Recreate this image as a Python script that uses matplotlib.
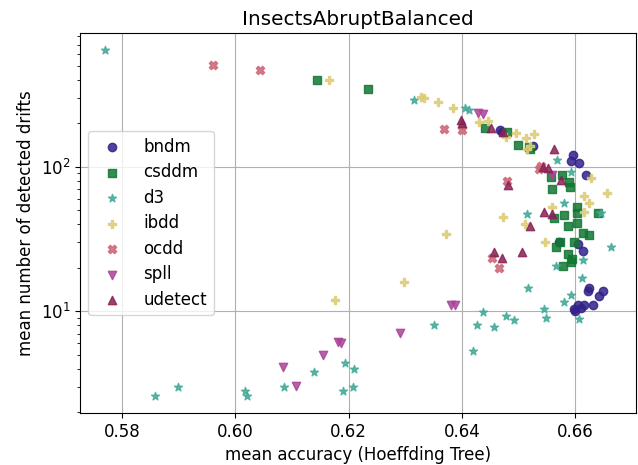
import matplotlib
matplotlib.use("Agg")
import matplotlib.pyplot as plt

# mean accuracy / mean number of detected drifts per detector
bndm_acc = [0.6467, 0.6470, 0.6525, 0.6596, 0.6593, 0.6607, 0.6620, 0.6571, 0.6605, 0.6614,
            0.6624, 0.6622, 0.6649, 0.6642, 0.6605, 0.6616, 0.6631, 0.6598, 0.6610, 0.6600]
bndm_drifts = [180, 175, 140, 120, 110, 107, 88, 30, 29, 26,
               14.5, 13.8, 13.8, 12.8, 11, 11, 11, 10.3, 10.5, 10.0]

csddm_acc = [0.6144, 0.6234, 0.6441, 0.6480, 0.6499, 0.6519, 0.6521, 0.6557, 0.6577, 0.6559,
             0.6590, 0.6591, 0.6603, 0.6603, 0.6640, 0.6580, 0.6562, 0.6587, 0.6603, 0.6614,
             0.6624, 0.6566, 0.6573, 0.6598, 0.6587, 0.6594, 0.6578, 0.6593]
csddm_drifts = [398, 345, 186, 175, 142, 137, 132, 85, 88, 70,
                79, 72, 53, 48, 48, 46, 44, 39, 41, 35,
                33.5, 28, 30, 30, 25, 23, 20.5, 22]

d3_acc = [0.5770, 0.5858, 0.5899, 0.6017, 0.6021, 0.6086, 0.6139, 0.6194, 0.6210, 0.6190,
          0.6208, 0.6315, 0.6351, 0.6405, 0.6413, 0.6420, 0.6427, 0.6437, 0.6457, 0.6478,
          0.6492, 0.6515, 0.6517, 0.6545, 0.6548, 0.6566, 0.6568, 0.6580, 0.6580, 0.6593,
          0.6593, 0.6607, 0.6612, 0.6614, 0.6645, 0.6663]
d3_drifts = [640, 2.6, 3.0, 2.8, 2.6, 3.0, 3.8, 4.4, 4.0, 2.8,
             3.0, 290, 8.0, 255, 247, 5.3, 8.0, 9.8, 7.8, 9.3,
             8.7, 47, 14.4, 10.3, 9.0, 20.5, 112, 56, 11.5, 92,
             13, 8.8, 17, 22.5, 47.5, 28]

ibdd_acc = [0.6165, 0.6176, 0.6298, 0.6327, 0.6333, 0.6358, 0.6372, 0.6384, 0.6430, 0.6446,
            0.6473, 0.6478, 0.6495, 0.6511, 0.6513, 0.6515, 0.6527, 0.6520, 0.6547, 0.6560,
            0.6615, 0.6615, 0.6624, 0.6628, 0.6656]
ibdd_drifts = [400, 12, 16, 305, 300, 282, 34.5, 255, 204, 207,
               45, 161, 171, 40, 158, 133, 169, 140, 30, 53,
               63, 49, 56, 83, 66]

ocdd_acc = [0.5960, 0.6043, 0.6369, 0.6400, 0.6480, 0.6540, 0.6536, 0.6453, 0.6465]
ocdd_drifts = [510, 467, 183, 180, 80, 101, 97, 23.5, 20]

spll_acc = [0.6084, 0.6107, 0.6155, 0.6181, 0.6186, 0.6290, 0.6381, 0.6388, 0.6428, 0.6437, 0.6559]
spll_drifts = [4.1, 3.05, 5.0, 6.1, 6.0, 7.1, 11, 11, 235, 230, 87]

udetect_acc = [0.6398, 0.6400, 0.6451, 0.6472, 0.6562, 0.6543, 0.6552, 0.6575, 0.6481, 0.6545,
               0.6560, 0.6520, 0.6457, 0.6471, 0.6506]
udetect_drifts = [211, 200, 186, 175, 133, 100, 98, 81, 75, 49,
                  47, 39, 25.5, 23.5, 25.5]

series = [
    ("bndm", bndm_acc, bndm_drifts, "#332288", "o"),
    ("csddm", csddm_acc, csddm_drifts, "#117733", "s"),
    ("d3", d3_acc, d3_drifts, "#44AA99", "*"),
    ("ibdd", ibdd_acc, ibdd_drifts, "#DDCC77", "P"),
    ("ocdd", ocdd_acc, ocdd_drifts, "#CC6677", "X"),
    ("spll", spll_acc, spll_drifts, "#AA4499", "v"),
    ("udetect", udetect_acc, udetect_drifts, "#882255", "^"),
]

plt.rcParams["font.size"] = 12

fig = plt.figure(figsize=(6.38, 4.65), dpi=100)
ax = fig.add_axes([0.1254, 0.1118, 0.8715, 0.8172])

for name, acc, drifts, color, marker in series:
    ax.scatter(acc, drifts, c=color, marker=marker, s=36, alpha=0.85, label=name)

ax.set_yscale("log")
ax.grid(True)
ax.set_axisbelow(True)
ax.set_title("InsectsAbruptBalanced")
ax.set_xlabel("mean accuracy (Hoeffding Tree)")
ax.set_ylabel("mean number of detected drifts")
ax.legend(loc="center left", handletextpad=0.9, labelspacing=0.45)

fig.savefig("out.png", dpi=100)
